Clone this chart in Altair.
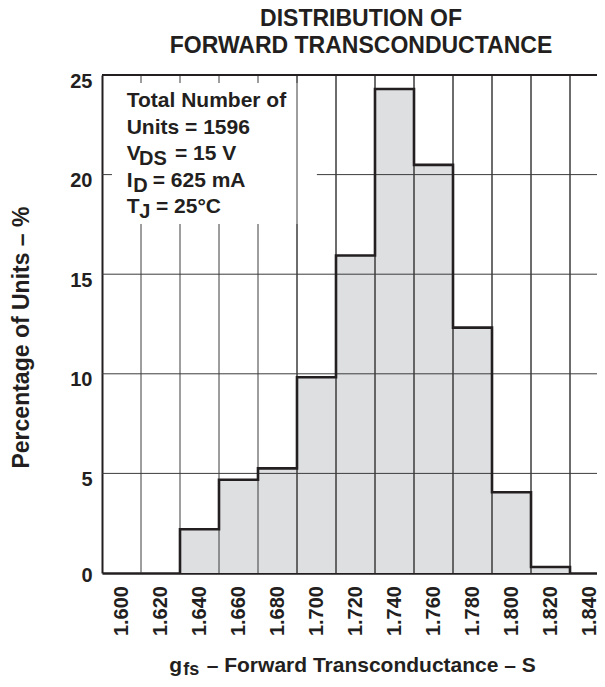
import altair as alt
import pandas as pd

# ---- data ----
centers = [1.600, 1.620, 1.640, 1.660, 1.680, 1.700, 1.720, 1.740,
           1.760, 1.780, 1.800, 1.820, 1.840]
percent = [0.0, 0.0, 2.2, 4.68, 5.25, 9.83, 15.94, 24.3,
           20.49, 12.32, 4.05, 0.3, 0.0]
bin_width = 0.02
x_labels = ["1.600", "1.620", "1.640", "1.660", "1.680", "1.700", "1.720",
            "1.740", "1.760", "1.780", "1.800", "1.820", "1.840"]
y_ticks = [0, 5, 10, 15, 20, 25]
h_grid = [5, 10, 15, 20]
v_grid = [1.610, 1.630, 1.650, 1.670, 1.690, 1.710, 1.730, 1.750,
          1.770, 1.790, 1.810, 1.830]
# white backing box behind the annotation (data units)
box = {"x": 1.5951, "x2": 1.7002, "y": 24.6, "y2": 17.52}

FONT = "Liberation Sans"
INK = "#231f20"
GRID = "#3c3c3c"
FILL = "#dedfe1"

W, H = 495, 498
cell_px = 39.0
x_min = centers[0] - bin_width / 2
x_max = x_min + bin_width * W / cell_px

bars = pd.DataFrame({"c": centers, "p": percent, "lab": x_labels})
bars["x0"] = bars["c"] - bin_width / 2
bars["x1"] = bars["c"] + bin_width / 2

nz = bars[bars["p"] > 0].reset_index(drop=True)
pts = [(nz["x0"].iloc[0], 0.0)]
for _, r in nz.iterrows():
    pts.append((r["x0"], r["p"]))
pts.append((nz["x1"].iloc[-1], nz["p"].iloc[-1]))
pts.append((nz["x1"].iloc[-1], 0.0))
env = pd.DataFrame({"x": [a for a, b in pts], "y": [b for a, b in pts],
                    "o": list(range(len(pts)))})

vg = pd.DataFrame({"x": v_grid})
hg = pd.DataFrame({"y": h_grid})
boxdf = pd.DataFrame([box])

xscale = alt.Scale(domain=[x_min, x_max], nice=False, zero=False)
yscale = alt.Scale(domain=[y_ticks[0], y_ticks[-1]], nice=False, zero=False)

xaxis = alt.Axis(values=centers, labels=False, title=None)
yaxis = alt.Axis(values=y_ticks, title="Percentage of Units – %",
                 labelOffset={"condition": {"test": "datum.value == 0", "value": 2},
                              "value": 6})

base_bars = alt.Chart(bars).mark_rect(color=FILL).encode(
    x=alt.X("x0:Q", scale=xscale, axis=xaxis),
    x2="x1:Q",
    y=alt.Y("p:Q", scale=yscale, axis=yaxis),
    y2=alt.datum(0),
)

hrules = alt.Chart(hg).mark_rule(color=GRID, strokeWidth=1).encode(
    y=alt.Y("y:Q", scale=yscale, axis=yaxis))

vrules = alt.Chart(vg).mark_rule(color=GRID, strokeWidth=1).encode(
    x=alt.X("x:Q", scale=xscale, axis=xaxis))

wbox = alt.Chart(boxdf).mark_rect(color="white").encode(
    x=alt.X("x:Q", scale=xscale, axis=xaxis), x2="x2:Q",
    y=alt.Y("y:Q", scale=yscale, axis=yaxis), y2="y2:Q")

vrules_top = alt.Chart(vg).transform_filter("datum.x > 1.68").mark_rule(
    color=GRID, strokeWidth=1).encode(x=alt.X("x:Q", scale=xscale, axis=xaxis))

envelope = alt.Chart(env).mark_line(color=INK, strokeWidth=2.6,
                                    interpolate="step-after",
                                    strokeJoin="miter").encode(
    x=alt.X("x:Q", scale=xscale, axis=xaxis),
    y=alt.Y("y:Q", scale=yscale, axis=yaxis),
    order="o:Q")

top_border = alt.Chart(pd.DataFrame({"y": [y_ticks[-1]]})).mark_rule(
    color=INK, strokeWidth=2).encode(y=alt.Y("y:Q", scale=yscale, axis=yaxis))

# x tick labels (rotated), placed at the bin centres through the x scale
xlabels = alt.Chart(bars).mark_text(
    font=FONT, fontWeight="bold", fontSize=20, color=INK, angle=270,
    align="right", baseline="middle").encode(
    x=alt.X("c:Q", scale=xscale, axis=xaxis),
    y=alt.value(H + 13),
    text="lab:N")

# annotation / title texts (pixel positions relative to the plot area)
notes = pd.DataFrame([
    {"t": "Total Number of", "px": 24.7, "py": 32, "s": 21},
    {"t": "Units = 1596", "px": 24.7, "py": 59, "s": 21},
    {"t": "V", "px": 24.7, "py": 85, "s": 21},
    {"t": "DS", "px": 37.0, "py": 90, "s": 20},
    {"t": "= 15 V", "px": 73.0, "py": 85, "s": 21},
    {"t": "I", "px": 24.7, "py": 112, "s": 21},
    {"t": "D", "px": 31.3, "py": 117, "s": 20},
    {"t": "= 625 mA", "px": 50.7, "py": 112, "s": 21},
    {"t": "T", "px": 24.7, "py": 138, "s": 21},
    {"t": "J", "px": 37.3, "py": 143, "s": 20},
    {"t": "= 25°C", "px": 54.0, "py": 138, "s": 21},
    {"t": "g", "px": 67.3, "py": 597, "s": 21},
    {"t": "fs", "px": 81.3, "py": 600, "s": 18},
    {"t": "– Forward Transconductance – S", "px": 104.7, "py": 597, "s": 21},
])
titles = pd.DataFrame([
    {"t": "DISTRIBUTION OF", "px": 259, "py": -49.5, "s": 23},
    {"t": "FORWARD TRANSCONDUCTANCE", "px": 259, "py": -22.5, "s": 23},
])

note_layer = alt.Chart(notes).mark_text(font=FONT, fontWeight="bold", color=INK,
                                        align="left", baseline="alphabetic").encode(
    x=alt.X("px:Q", scale=None), y=alt.Y("py:Q", scale=None),
    text="t:N", size=alt.Size("s:Q", scale=None, legend=None))

title_layer = alt.Chart(titles).mark_text(font=FONT, fontWeight="bold", color=INK,
                                          align="center", baseline="alphabetic").encode(
    x=alt.X("px:Q", scale=None), y=alt.Y("py:Q", scale=None),
    text="t:N", size=alt.Size("s:Q", scale=None, legend=None))

chart = alt.layer(
    base_bars, hrules, vrules, wbox, vrules_top, envelope, top_border,
    xlabels, note_layer, title_layer
).resolve_scale(size="independent").properties(
    width=W, height=H,
    autosize=alt.AutoSizeParams(type="none"),
    padding={"left": 94, "top": 67, "right": 0, "bottom": 106},
).configure_view(stroke=None).configure_axis(
    labelFont=FONT, labelFontWeight="bold", labelColor=INK, labelFontSize=20,
    ticks=False, grid=False, domainColor=INK, labelFlush=False,
    labelOverlap=False, zindex=2,
    titleFont=FONT, titleFontWeight="bold", titleColor=INK,
).configure_axisX(
    domainWidth=2.5,
).configure_axisY(
    labelPadding=10, domainWidth=2,
    titleFontSize=23, titleAngle=270, titleBaseline="alphabetic",
    titleX=-73.5, titleY=262, titleAlign="center",
)

chart.save("out.html", embed_options={"renderer": "svg", "actions": False})
